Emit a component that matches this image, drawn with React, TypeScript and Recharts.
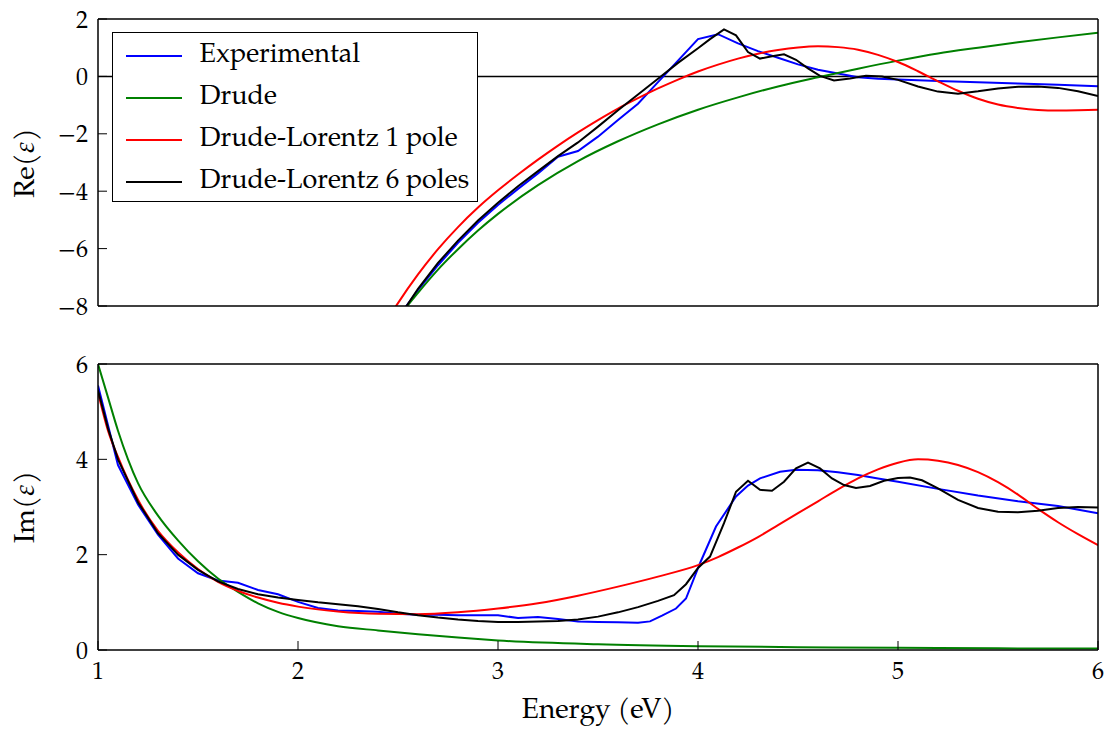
import React from 'react';
import { LineChart, Line, XAxis, YAxis, ReferenceLine, Legend } from 'recharts';

type Pt = [number, number];

// axis ticks
const xMajor = [1, 2, 3, 4, 5, 6];
const xMinor = [1.2, 1.4, 1.6, 1.8, 2.2, 2.4, 2.6, 2.8, 3.2, 3.4, 3.6, 3.8, 4.2, 4.4, 4.6, 4.8, 5.2, 5.4, 5.6, 5.8];
const reMajor = [-8, -6, -4, -2, 0, 2];
const reMinor = [-7.5, -7, -6.5, -5.5, -5, -4.5, -3.5, -3, -2.5, -1.5, -1, -0.5, 0.5, 1, 1.5];
const imMajor = [0, 2, 4, 6];
const imMinor = [0.5, 1, 1.5, 2.5, 3, 3.5, 4.5, 5, 5.5];

// Re(eps) — [energy eV, value]
const reExperimental: Pt[] = [
  [2.45, -9.0], [2.5, -8.4], [2.6, -7.45], [2.7, -6.58], [2.8, -5.8], [2.9, -5.1], [3.0, -4.48],
  [3.1, -3.92], [3.2, -3.38], [3.3, -2.8], [3.4, -2.6], [3.5, -2.1], [3.6, -1.52], [3.7, -0.95],
  [3.8, -0.2], [3.9, 0.55], [4.0, 1.3], [4.1, 1.47], [4.2, 1.15], [4.3, 0.88], [4.4, 0.65],
  [4.5, 0.42], [4.6, 0.23], [4.7, 0.1], [4.8, -0.03], [4.9, -0.08], [5.0, -0.11], [5.2, -0.16],
  [5.4, -0.2], [5.6, -0.25], [5.8, -0.29], [6.0, -0.34],
];
const reDrude: Pt[] = [
  [2.5, -8.45], [2.55, -7.97], [2.6, -7.54], [2.7, -6.73], [2.8, -6.02], [2.9, -5.37], [3.0, -4.79],
  [3.2, -3.79], [3.4, -2.95], [3.6, -2.26], [3.8, -1.67], [4.0, -1.16], [4.2, -0.73], [4.4, -0.35],
  [4.6, -0.03], [4.8, 0.27], [5.0, 0.55], [5.2, 0.8], [5.4, 1.0], [5.6, 1.19], [5.8, 1.36], [6.0, 1.52],
];
const reLorentz1: Pt[] = [
  [2.45, -8.45], [2.5, -7.9], [2.6, -6.9], [2.7, -6.02], [2.8, -5.25], [2.9, -4.57], [3.0, -3.97],
  [3.1, -3.42], [3.2, -2.9], [3.3, -2.41], [3.4, -1.95], [3.5, -1.52], [3.6, -1.12], [3.7, -0.76],
  [3.8, -0.42], [3.9, -0.11], [4.0, 0.17], [4.1, 0.41], [4.2, 0.62], [4.3, 0.79], [4.4, 0.92],
  [4.5, 1.01], [4.6, 1.05], [4.7, 1.02], [4.8, 0.93], [4.9, 0.75], [5.0, 0.5], [5.1, 0.18],
  [5.2, -0.17], [5.3, -0.5], [5.4, -0.78], [5.5, -0.98], [5.6, -1.1], [5.7, -1.17], [5.8, -1.19],
  [5.9, -1.18], [6.0, -1.16],
];
const reLorentz6: Pt[] = [
  [2.45, -9.1], [2.5, -8.45], [2.6, -7.4], [2.7, -6.5], [2.8, -5.72], [2.9, -5.02], [3.0, -4.4],
  [3.1, -3.83], [3.2, -3.3], [3.3, -2.78], [3.4, -2.3], [3.5, -1.75], [3.6, -1.18], [3.7, -0.63],
  [3.8, -0.08], [3.9, 0.47], [4.0, 0.98], [4.06, 1.3], [4.13, 1.64], [4.19, 1.43], [4.25, 0.85],
  [4.31, 0.62], [4.37, 0.7], [4.43, 0.77], [4.49, 0.58], [4.55, 0.28], [4.61, 0.02], [4.68, -0.14],
  [4.76, -0.07], [4.84, 0.02], [4.92, 0.0], [5.0, -0.12], [5.1, -0.35], [5.2, -0.53], [5.3, -0.6],
  [5.4, -0.52], [5.5, -0.42], [5.6, -0.36], [5.7, -0.35], [5.8, -0.4], [5.9, -0.52], [6.0, -0.68],
];

// Im(eps)
const imExperimental: Pt[] = [
  [1.0, 5.55], [1.1, 3.88], [1.2, 3.05], [1.3, 2.42], [1.4, 1.92], [1.5, 1.61], [1.6, 1.46],
  [1.7, 1.41], [1.8, 1.26], [1.9, 1.17], [2.0, 1.01], [2.1, 0.88], [2.2, 0.83], [2.3, 0.82],
  [2.4, 0.8], [2.5, 0.76], [2.6, 0.74], [2.7, 0.74], [2.8, 0.73], [2.9, 0.73], [3.0, 0.73],
  [3.1, 0.67], [3.2, 0.69], [3.3, 0.65], [3.4, 0.6], [3.5, 0.59], [3.6, 0.58], [3.7, 0.57],
  [3.76, 0.6], [3.82, 0.72], [3.89, 0.87], [3.94, 1.08], [4.01, 1.82], [4.09, 2.59], [4.19, 3.22],
  [4.25, 3.45], [4.31, 3.6], [4.41, 3.74], [4.49, 3.78], [4.6, 3.77], [4.7, 3.73], [4.8, 3.67],
  [4.9, 3.6], [5.0, 3.53], [5.2, 3.38], [5.4, 3.24], [5.6, 3.12], [5.8, 3.02], [6.0, 2.87],
];
const imDrude: Pt[] = [
  [1.0, 6.0], [1.05, 5.3], [1.1, 4.6], [1.15, 4.0], [1.2, 3.5], [1.3, 2.82], [1.4, 2.3],
  [1.5, 1.86], [1.6, 1.5], [1.7, 1.22], [1.8, 0.98], [1.9, 0.8], [2.0, 0.67], [2.2, 0.5],
  [2.4, 0.41], [2.6, 0.33], [2.8, 0.26], [3.0, 0.2], [3.5, 0.12], [4.0, 0.08], [4.5, 0.06],
  [5.0, 0.045], [5.5, 0.035], [6.0, 0.03],
];
const imLorentz1: Pt[] = [
  [1.0, 5.4], [1.05, 4.6], [1.1, 4.05], [1.2, 3.15], [1.3, 2.5], [1.4, 2.05], [1.5, 1.7],
  [1.6, 1.43], [1.7, 1.24], [1.8, 1.1], [1.9, 0.99], [2.0, 0.91], [2.2, 0.81], [2.4, 0.76],
  [2.6, 0.75], [2.8, 0.79], [3.0, 0.87], [3.2, 0.98], [3.4, 1.14], [3.6, 1.33], [3.8, 1.54],
  [4.0, 1.78], [4.1, 1.95], [4.2, 2.15], [4.3, 2.37], [4.4, 2.62], [4.5, 2.87], [4.6, 3.12],
  [4.7, 3.37], [4.8, 3.6], [4.9, 3.79], [5.0, 3.93], [5.1, 4.0], [5.2, 3.97], [5.3, 3.88],
  [5.4, 3.73], [5.5, 3.52], [5.6, 3.26], [5.7, 2.96], [5.8, 2.68], [5.9, 2.43], [6.0, 2.2],
];
const imLorentz6: Pt[] = [
  [1.0, 5.45], [1.05, 4.65], [1.1, 4.0], [1.2, 3.1], [1.3, 2.45], [1.4, 2.0], [1.5, 1.68],
  [1.6, 1.44], [1.7, 1.28], [1.8, 1.17], [1.9, 1.1], [2.0, 1.05], [2.1, 1.0], [2.2, 0.96],
  [2.3, 0.92], [2.4, 0.86], [2.5, 0.79], [2.6, 0.73], [2.7, 0.68], [2.8, 0.64], [2.9, 0.61],
  [3.0, 0.59], [3.1, 0.59], [3.2, 0.6], [3.3, 0.61], [3.4, 0.64], [3.5, 0.7], [3.6, 0.79],
  [3.7, 0.9], [3.8, 1.03], [3.88, 1.15], [3.94, 1.38], [4.0, 1.72], [4.06, 1.96], [4.13, 2.66],
  [4.19, 3.32], [4.25, 3.55], [4.31, 3.36], [4.37, 3.34], [4.43, 3.53], [4.49, 3.81], [4.55, 3.93],
  [4.61, 3.81], [4.67, 3.6], [4.73, 3.46], [4.79, 3.4], [4.86, 3.44], [4.93, 3.55], [5.0, 3.61],
  [5.06, 3.62], [5.12, 3.56], [5.2, 3.39], [5.3, 3.15], [5.4, 2.98], [5.5, 2.9], [5.6, 2.89],
  [5.7, 2.92], [5.8, 2.98], [5.9, 3.0], [6.0, 2.99],
];

// model fits are smooth curves, measured data and 6-pole fit are drawn as polylines
const series = [
  { name: 'Experimental', color: '#0000ff', curve: 'linear', re: reExperimental, im: imExperimental },
  { name: 'Drude', color: '#008000', curve: 'monotone', re: reDrude, im: imDrude },
  { name: 'Drude-Lorentz 1 pole', color: '#ff0000', curve: 'monotone', re: reLorentz1, im: imLorentz1 },
  { name: 'Drude-Lorentz 6 poles', color: '#000000', curve: 'linear', re: reLorentz6, im: imLorentz6 },
] as const;

const FONT = 'TeX Gyre Pagella';
const tickFont = { fontFamily: FONT, fontSize: 24, fill: '#000' };
const frame = { stroke: '#000', strokeWidth: 1.5 };
const tickPen = { stroke: '#000', strokeWidth: 1 };
const fmt = (v: number) => (v < 0 ? '\u2212' + Math.abs(v) : String(v));
const rows = (pts: readonly Pt[]) => pts.map(([e, v]) => ({ e, v }));

function axes(yMajor: number[], yMinor: number[], yDomain: [number, number], showX: boolean) {
  return [
    <XAxis key="b" xAxisId="b" type="number" dataKey="e" domain={[1, 6]} allowDataOverflow ticks={xMajor}
      interval={0} height={1} tickSize={-9} tickMargin={21} axisLine={frame} tickLine={tickPen}
      tick={showX ? tickFont : false} tickFormatter={fmt} />,
    <XAxis key="b2" xAxisId="b2" type="number" domain={[1, 6]} allowDataOverflow ticks={xMinor}
      interval={0} height={1} tickSize={-4.5} axisLine={false} tickLine={tickPen} tick={false} />,
    <XAxis key="t" xAxisId="t" orientation="top" type="number" domain={[1, 6]} allowDataOverflow ticks={xMajor}
      interval={0} height={1} tickSize={-9} axisLine={frame} tickLine={tickPen} tick={false} />,
    <XAxis key="t2" xAxisId="t2" orientation="top" type="number" domain={[1, 6]} allowDataOverflow ticks={xMinor}
      interval={0} height={1} tickSize={-4.5} axisLine={false} tickLine={tickPen} tick={false} />,
    <YAxis key="l" yAxisId="l" type="number" domain={yDomain} allowDataOverflow ticks={yMajor}
      interval={0} width={1} tickSize={-9} tickMargin={19} axisLine={frame} tickLine={tickPen}
      tick={tickFont} tickFormatter={fmt} />,
    <YAxis key="l2" yAxisId="l2" type="number" domain={yDomain} allowDataOverflow ticks={yMinor}
      interval={0} width={1} tickSize={-4.5} axisLine={false} tickLine={tickPen} tick={false} />,
    <YAxis key="r" yAxisId="r" orientation="right" type="number" domain={yDomain} allowDataOverflow ticks={yMajor}
      interval={0} width={1} tickSize={-9} axisLine={frame} tickLine={tickPen} tick={false} />,
    <YAxis key="r2" yAxisId="r2" orientation="right" type="number" domain={yDomain} allowDataOverflow ticks={yMinor}
      interval={0} width={1} tickSize={-4.5} axisLine={false} tickLine={tickPen} tick={false} />,
  ];
}

const renderLegend = () => (
  <div style={{ width: 366, height: 170, boxSizing: 'border-box', border: '1.5px solid #000', background: '#fff', position: 'relative' }}>
    {series.map((s, i) => (
      <div key={s.name} style={{ position: 'absolute', left: 0, top: 7 + i * 42, height: 32, display: 'flex', alignItems: 'center' }}>
        <div style={{ width: 56, height: 2, background: s.color, marginLeft: 12.5 }} />
        <span style={{ marginLeft: 18, fontFamily: FONT, fontSize: 27, lineHeight: '32px', color: '#000', whiteSpace: 'nowrap' }}>{s.name}</span>
      </div>
    ))}
  </div>
);

const titleStyle: React.CSSProperties = {
  position: 'absolute', fontFamily: FONT, fontSize: 28, color: '#000', whiteSpace: 'nowrap',
};

export default function App() {
  return (
    <div style={{ position: 'absolute', left: 0, top: 0, width: 1114, height: 730, background: '#fff', fontFamily: FONT }}>
      <div style={{ position: 'absolute', left: 0, top: 0 }}>
        <LineChart width={1114} height={330} margin={{ top: 17, right: 14, bottom: 22, left: 96 }}>
          {axes(reMajor, reMinor, [-8, 2], false)}
          <ReferenceLine xAxisId="b" yAxisId="l" y={0} stroke="#000" strokeWidth={1.5} />
          {series.map((s) => (
            <Line key={s.name} xAxisId="b" yAxisId="l" data={rows(s.re)} dataKey="v" name={s.name}
              type={s.curve} stroke={s.color} strokeWidth={2} dot={false} isAnimationActive={false} />
          ))}
          <Legend layout="vertical" align="center" verticalAlign="middle" content={renderLegend}
            wrapperStyle={{ left: 112, top: 32, width: 366, height: 170 }} />
        </LineChart>
      </div>
      <div style={{ position: 'absolute', left: 0, top: 330 }}>
        <LineChart width={1114} height={400} margin={{ top: 32, right: 14, bottom: 78, left: 96 }}>
          {axes(imMajor, imMinor, [0, 6], true)}
          {series.map((s) => (
            <Line key={s.name} xAxisId="b" yAxisId="l" data={rows(s.im)} dataKey="v" name={s.name}
              type={s.curve} stroke={s.color} strokeWidth={2} dot={false} isAnimationActive={false} />
          ))}
        </LineChart>
      </div>
      <div style={{ ...titleStyle, left: 27, top: 163, transform: 'translate(-50%, -50%) rotate(-90deg)' }}>
        Re(<i>ε</i>)
      </div>
      <div style={{ ...titleStyle, left: 27, top: 507, transform: 'translate(-50%, -50%) rotate(-90deg)' }}>
        Im(<i>ε</i>)
      </div>
      <div style={{ ...titleStyle, left: 598, top: 712, transform: 'translate(-50%, -50%)' }}>
        Energy (eV)
      </div>
    </div>
  );
}
